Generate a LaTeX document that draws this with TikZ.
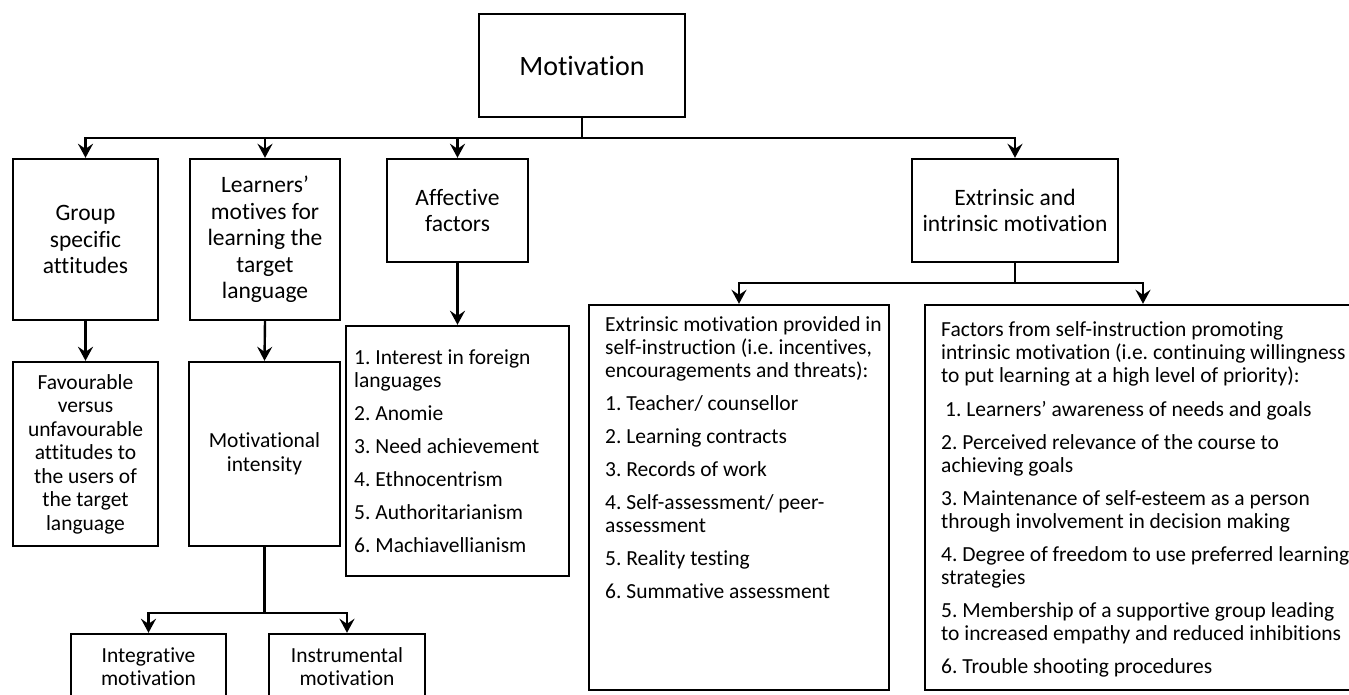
\documentclass[tikz,border=0pt]{standalone}
\usepackage{fontspec}
\setmainfont{Carlito}[Ligatures={NoCommon}]
\usepackage{tikz}
\usetikzlibrary{positioning, arrows.meta}
\frenchspacing

\tikzset{
  box/.style={draw, line width=2.4pt, align=center, inner sep=0pt, font=\fontsize{23.5}{26.5}\selectfont},
  smallbox/.style={box, font=\fontsize{21.5}{23.5}\selectfont},
  listtext/.style={anchor=north west, align=left, inner sep=0pt, font=\fontsize{21.5}{23}\selectfont},
  link/.style={line width=2.4pt},
  arrow/.style={link, -{Stealth[length=14pt, width=15pt, inset=5pt]}}
}

\begin{document}
\begin{tikzpicture}[x=1pt, y=-1pt]

\useasboundingbox (0,0) rectangle (1349,695);

\node[box, minimum width=206, minimum height=103, font=\fontsize{28}{32}\selectfont] (mot) at (582,65.5) {Motivation};

\node[box, minimum width=145, minimum height=161] (grp) at (85.5,239.5) {Group\\ specific\\ attitudes};
\node[box, minimum width=150, minimum height=161] (lrn) at (265,239.5) {Learners’\\ motives for\\ learning the\\ target\\ language};
\node[box, minimum width=141, minimum height=103] (aff) at (457.5,210.5) {Affective\\ factors};
\node[box, minimum width=206, minimum height=103] (ext) at (1015,210.5) {Extrinsic and\\ intrinsic motivation};

\node[smallbox, minimum width=145, minimum height=184] (fav) at (85.5,454) {Favourable\\ versus\\ unfavourable\\ attitudes to\\ the users of\\ the target\\ language};
\node[smallbox, minimum width=151, minimum height=184] (intens) at (264.5,454) {Motivational\\ intensity};
\node[smallbox, minimum width=155, minimum height=65] (integ) at (148.5,666.5) {Integrative\\ motivation};
\node[smallbox, minimum width=156, minimum height=65] (instr) at (347,666.5) {Instrumental\\ motivation};

\node[box, minimum width=223, minimum height=250] (afflist) at (457.5,451) {};
\node[box, minimum width=300, minimum height=385] (extlist) at (739,497.5) {};
\node[box, minimum width=436, minimum height=385] (intlist) at (1143,497.5) {};

\node[listtext] (afftext) at (354,348.4) {\strut 1. Interest in foreign\\ languages\\[10pt] 2. Anomie\\[10pt] 3. Need achievement\\[10pt] 4. Ethnocentrism\\[10pt] 5. Authoritarianism\\[10pt] 6. Machiavellianism};
\node[listtext] (exttext) at (605,315.4) {\strut Extrinsic motivation provided in\\ self-instruction (i.e. incentives,\\ encouragements and threats):\\[10pt] 1. Teacher/ counsellor\\[10pt] 2. Learning contracts\\[10pt] 3. Records of work\\[10pt] 4. Self-assessment/ peer-\\ assessment\\[10pt] 5. Reality testing\\[10pt] 6. Summative assessment};
\node[listtext] (inttext) at (941,320.4) {\strut Factors from self-instruction promoting\\ intrinsic motivation (i.e. continuing willingness\\ to put learning at a high level of priority):\\[11pt] \hspace{4pt}1. Learners’ awareness of needs and goals\\[10pt] 2. Perceived relevance of the course to\\ achieving goals\\[10pt] 3. Maintenance of self-esteem as a person\\ through involvement in decision making\\[10pt] 4. Degree of freedom to use preferred learning\\ strategies\\[10pt] 5. Membership of a supportive group leading\\ to increased empathy and reduced inhibitions\\[10pt] 6. Trouble shooting procedures};

\coordinate (bus) at (582,138);
\coordinate (extbus) at (1015,283);
\coordinate (intbus) at (264.5,613);

\draw[link] (mot.south) -- (bus);
\draw[arrow] (bus) -| (grp.north);
\draw[arrow] (bus) -| (lrn.north);
\draw[arrow] (bus) -| (aff.north);
\draw[arrow] (bus) -| (ext.north);

\draw[arrow] (grp.south) -- (fav.north);
\draw[arrow] (lrn.south) -- (intens.north);
\draw[arrow] (aff.south) -- (afflist.north);

\draw[link] (ext.south) -- (extbus);
\draw[arrow] (extbus) -| (extlist.north);
\draw[arrow] (extbus) -| (intlist.north);

\draw[link] (intens.south) -- (intbus);
\draw[arrow] (intbus) -| (integ.north);
\draw[arrow] (intbus) -| (instr.north);

\end{tikzpicture}
\end{document}
